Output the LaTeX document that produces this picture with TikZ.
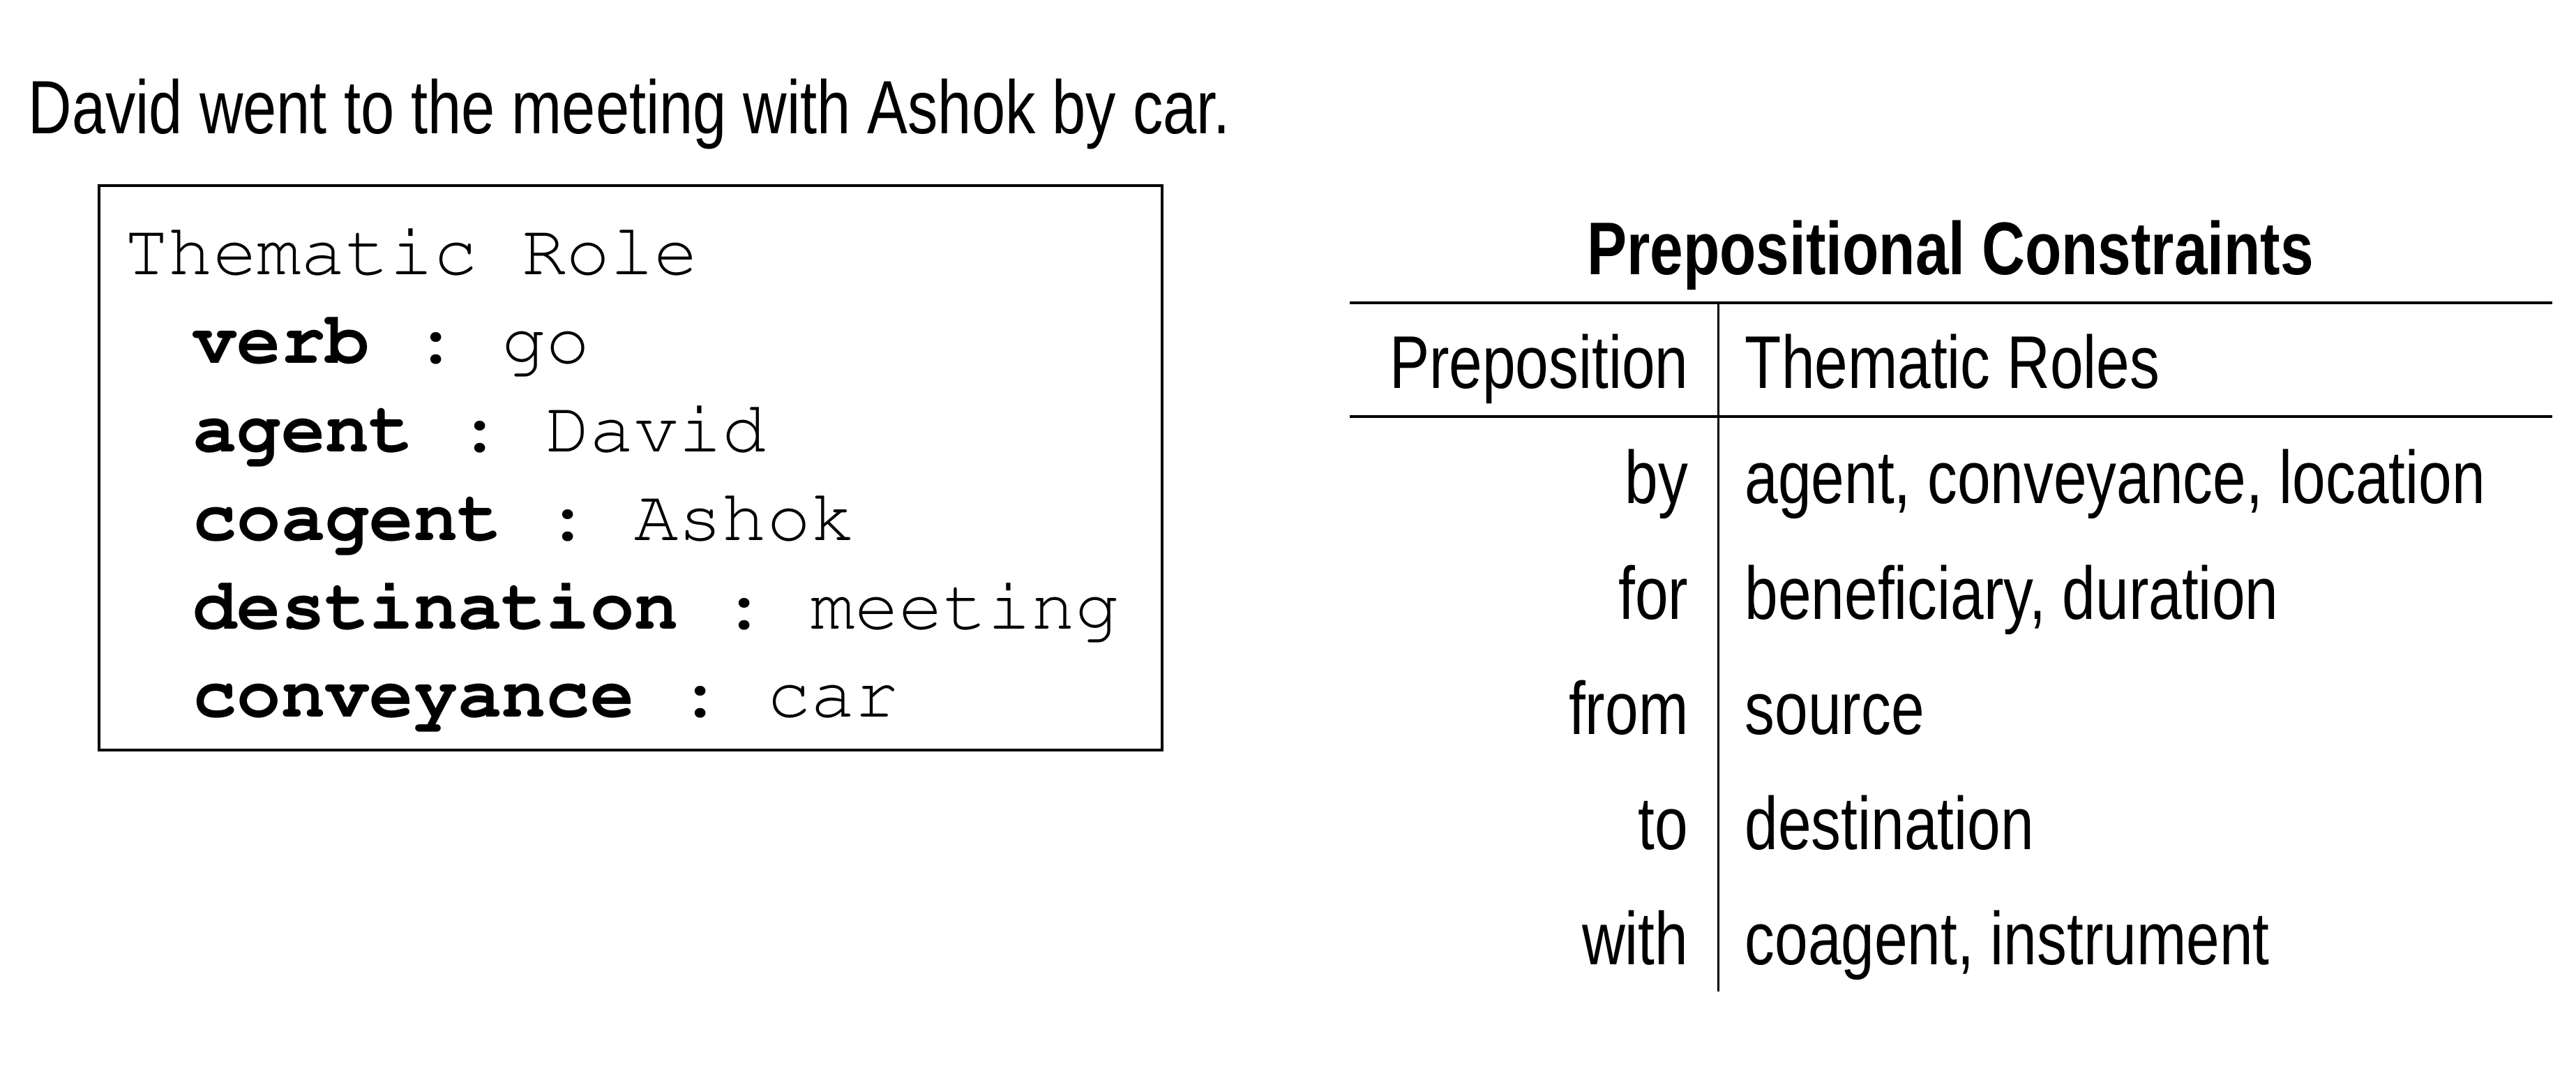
\documentclass[tikz,border=0pt]{standalone}
\usepackage{fontspec}
\setmainfont{Liberation Sans}[FakeStretch=0.80]
\setmonofont{Liberation Mono}
\begin{document}
\begin{tikzpicture}[
    txt/.style={inner sep=0pt,font=\fontsize{30.45}{36}\selectfont},
    ttl/.style={inner sep=0pt,font=\bfseries\fontsize{30.45}{36}\selectfont},
    code/.style={inner sep=0pt,anchor=base west,font=\fontencoding{T1}\fontfamily{pcr}\fontsize{30.0}{36}\selectfont\frenchspacing},
    rule/.style={line width=1.2pt}]
  \useasboundingbox (0,0) rectangle (36.93,15.45);
  % sentence
  \node[txt,anchor=base west,font=\fontsize{30.8}{36}\selectfont] (sent) at (0.40,13.53) {David went to the meeting with Ashok by car.};
  % thematic role frame
  \node[draw,line width=1pt,minimum width=15.24cm,minimum height=8.09cm] (frame) at (9.04,8.745) {};
  \node[code] (head) at (1.78,11.51) {Thematic Role};
  \foreach \k/\v [count=\i] in {verb/go,agent/David,coagent/Ashok,destination/meeting,conveyance/car}{
    \node[code] (f\i) at (2.76,11.51-\i*1.268) {\textbf{\k} : \v};
  }
  % prepositional constraints
  \node[ttl,anchor=base] (title) at (27.96,11.51) {Prepositional Constraints};
  \coordinate (TL) at (19.35,11.11);
  \coordinate (TR) at (36.59,11.11);
  \coordinate (ML) at (19.35,9.48);
  \coordinate (MR) at (36.59,9.48);
  \coordinate (VT) at (24.635,11.11);
  \coordinate (VB) at (24.635,1.24);
  \draw[rule] (TL)--(TR);
  \draw[rule] (ML)--(MR);
  \draw[line width=1pt] (VT)--(VB);
  \node[txt,anchor=base east] (hp) at (24.21,9.88) {Preposition};
  \node[txt,anchor=base west] (hr) at (25.01,9.88) {Thematic Roles};
  \foreach \p/\r [count=\i] in {by/{agent, conveyance, location},for/{beneficiary, duration},
      from/source,to/destination,with/{coagent, instrument}}{
    \node[txt,anchor=base east] (p\i) at (24.21,8.23-\i*1.6525+1.6525) {\p};
    \node[txt,anchor=base west] (r\i) at (25.01,8.23-\i*1.6525+1.6525) {\r};
  }
\end{tikzpicture}
\end{document}
